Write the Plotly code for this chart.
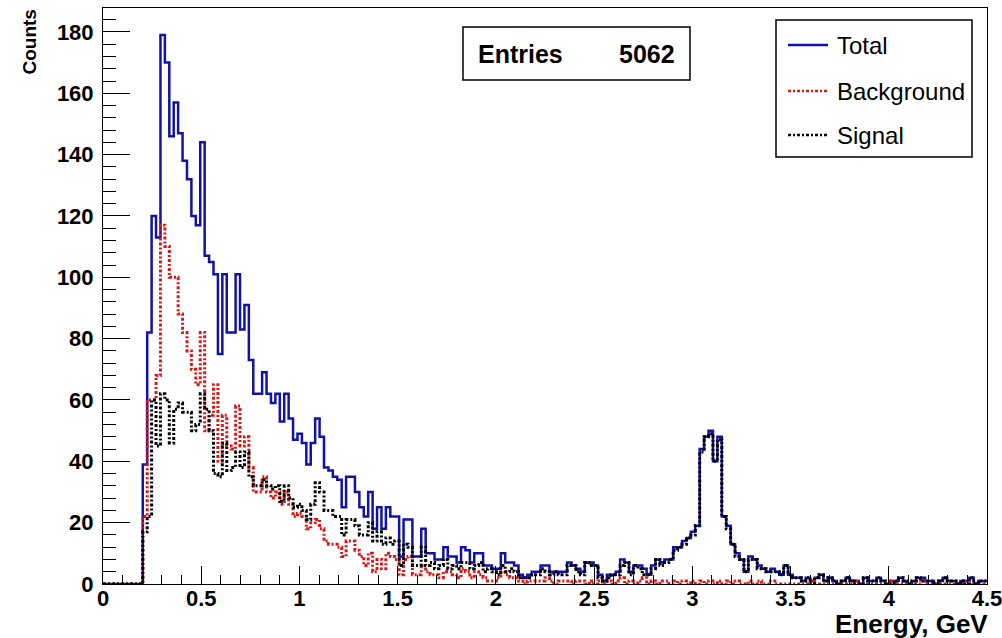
import numpy as np
import plotly.graph_objects as go

# Histogram binning (ROOT TH1: 200 bins over 0..4.5 GeV)
x_min, x_max, n_bins = 0.0, 4.5, 200

total = [0]*9 + [39,
    82,120,113,179,170,146,157,147,138,132,
    120,117,144,107,105,101,75,101,82,82,
    101,83,91,73,62,62,69,62,59,62,
    53,62,54,47,49,46,39,46,54,48,
    38,37,35,34,25,35,35,30,25,22,
    30,18,25,18,25,22,22,9,21,21,
    9,9,18,10,10,8,8,12,9,9,
    7,12,11,7,10,10,6,6,5,5,
    10,7,7,6,3,2,3,4,4,6,
    6,4,4,4,4,7,6,5,4,7,
    7,6,3,1,3,3,4,8,7,4,
    6,6,5,3,6,8,7,8,8,12,
    12,14,15,17,19,44,48,50,40,48,
    22,19,13,10,8,4,9,8,6,5,
    4,5,4,3,6,3,2,2,1,2,
    1,2,3,1,2,1,0,1,2,1,
    1,0,2,1,1,2,1,0,1,1,
    2,1,0,1,2,2,1,1,0,1,
    2,1,1,0,1,1,2,0,1,1]

background = [0]*9 + [22,
    60,60,68,117,110,100,100,88,82,76,
    70,65,82,50,55,65,40,55,45,44,
    58,45,48,38,30,30,35,30,28,30,
    26,30,26,22,23,22,18,20,21,18,
    14,13,13,12,9,14,14,11,9,6,
    10,4,8,5,10,9,8,3,8,9,
    3,3,6,4,3,3,2,4,4,3,
    2,5,4,2,4,3,2,1,1,2,
    4,3,2,2,1,0,1,1,1,1,
    2,1,0,1,1,1,0,1,1,0,
    1,0,1,0,1,0,1,2,0,1,
    0,1,2,0,1,0,1,1,0,1,
    0,1,0,1,0,1,0,1,0,1,
    0,1,0,1,0,0,1,0,1,0,
    0,1,0,0,0,0,0,0,0,0,
    1,0,0,0,0,0,0,0,0,0,
    1,0,0,0,0,0,0,0,1,0,
    0,0,0,0,0,1,0,0,0,0,
    0,0,0,0,0,1,0,0,0,0]

signal = [0]*9 + [17,
    22,60,45,62,60,46,57,59,56,56,
    50,52,62,57,50,36,35,46,37,38,
    43,38,43,35,32,32,34,32,31,32,
    27,32,28,25,26,24,21,26,33,30,
    24,24,22,22,16,21,21,19,16,16,
    20,14,17,13,15,13,14,6,13,12,
    6,6,12,6,7,5,6,8,5,6,
    5,7,7,5,6,7,4,5,4,3,
    6,4,5,4,2,2,2,3,3,5,
    4,3,4,3,3,6,6,4,3,7,
    6,6,2,1,2,3,3,6,7,3,
    6,5,3,3,5,8,6,7,8,11,
    12,13,15,16,19,43,48,49,40,47,
    22,18,13,9,8,4,8,8,5,5,
    4,4,4,3,6,3,2,2,1,2,
    0,2,3,1,2,1,0,1,2,1,
    0,0,2,1,1,2,1,0,0,1,
    2,1,0,1,2,1,1,1,0,1,
    2,1,1,0,1,0,2,0,1,1]

entries_label = "Entries"
entries_value = "5062"
legend_names = ["Total", "Background", "Signal"]

edges = np.linspace(x_min, x_max, n_bins + 1)

BLUE = "#1212a6"
RED = "#d81818"
BLACK = "#000000"
DASH = "3px,2px,2px,2px"

def step_trace(vals, color, dash, width, name):
    return go.Scatter(x=edges, y=list(vals) + [vals[-1]], mode="lines",
                      line=dict(color=color, width=width, dash=dash, shape="hv"),
                      name=name, hoverinfo="skip")

fig = go.Figure()
fig.add_trace(step_trace(total, BLUE, "solid", 2.5, legend_names[0]))
fig.add_trace(step_trace(background, RED, DASH, 3, legend_names[1]))
fig.add_trace(step_trace(signal, BLACK, DASH, 3, legend_names[2]))

tickfont = dict(family="Liberation Sans", size=22, color="black", weight="bold")

fig.update_layout(
    width=1002, height=638,
    margin=dict(l=103, r=15, t=8, b=54, autoexpand=False),
    plot_bgcolor="white", paper_bgcolor="white",
    showlegend=False,
    xaxis=dict(range=[x_min, x_max], tick0=0, dtick=0.5, ticks="inside",
               ticklen=18, tickwidth=1, tickcolor="black",
               minor=dict(dtick=0.1, tick0=0, ticks="inside", ticklen=9,
                          tickwidth=1, tickcolor="black"),
               showline=True, linecolor="black", linewidth=1, mirror=True,
               showgrid=False, zeroline=False, tickfont=tickfont,
               ticklabeloverflow="allow", ticklabelstandoff=-5, automargin=False),
    yaxis=dict(range=[0, 187.8], tick0=0, dtick=20, ticks="inside",
               ticklen=27, tickwidth=1, tickcolor="black",
               minor=dict(dtick=4, tick0=0, ticks="inside", ticklen=13,
                          tickwidth=1, tickcolor="black"),
               showline=True, linecolor="black", linewidth=1, mirror=True,
               showgrid=False, zeroline=False, tickfont=tickfont,
               ticklabelstandoff=4, automargin=False),
)

def px_x(p):
    return (p - 103) / 884.0

def px_y(p):
    return (584 - p) / 576.0

shapes = []
annotations = []
# Axis titles
annotations.append(dict(text="<b>Energy, GeV</b>", x=px_x(990), y=px_y(624), xref="paper", yref="paper",
                        xanchor="right", yanchor="middle", showarrow=False,
                        font=dict(family="Liberation Sans", size=26, color="black")))
annotations.append(dict(text="<b>Counts</b>", x=px_x(29), y=1.0, xref="paper", yref="paper",
                        xanchor="center", yanchor="top", textangle=-90, showarrow=False,
                        font=dict(family="Liberation Sans", size=19, color="black")))
# Entries box
shapes.append(dict(type="rect", xref="paper", yref="paper", x0=px_x(463), x1=px_x(690),
                   y0=px_y(80), y1=px_y(27), line=dict(color="black", width=1.5),
                   fillcolor="white"))
annotations.append(dict(text="<b>" + entries_label + "</b>", x=px_x(476), y=px_y(54),
                        xref="paper", yref="paper", xanchor="left", yanchor="middle",
                        showarrow=False, font=dict(family="Liberation Sans", size=25, color="black")))
annotations.append(dict(text="<b>" + entries_value + "</b>", x=px_x(677), y=px_y(54),
                        xref="paper", yref="paper", xanchor="right", yanchor="middle",
                        showarrow=False, font=dict(family="Liberation Sans", size=25, color="black")))
# Legend box
shapes.append(dict(type="rect", xref="paper", yref="paper", x0=px_x(776), x1=px_x(972),
                   y0=px_y(157), y1=px_y(20), line=dict(color="black", width=1.5),
                   fillcolor="white"))
leg_rows = [(45, BLUE, "solid"), (91, RED, DASH), (135, BLACK, DASH)]
for (yy, col, dsh), name in zip(leg_rows, legend_names):
    shapes.append(dict(type="line", xref="paper", yref="paper", x0=px_x(788), x1=px_x(828),
                       y0=px_y(yy), y1=px_y(yy), line=dict(color=col, width=2.5, dash=dsh)))
    annotations.append(dict(text=name, x=px_x(835), y=px_y(yy), xref="paper", yref="paper",
                            xanchor="left", yanchor="middle", showarrow=False,
                            font=dict(family="Liberation Sans", size=24, color="black")))

fig.update_layout(shapes=shapes, annotations=annotations)
fig.write_html("out.html")
